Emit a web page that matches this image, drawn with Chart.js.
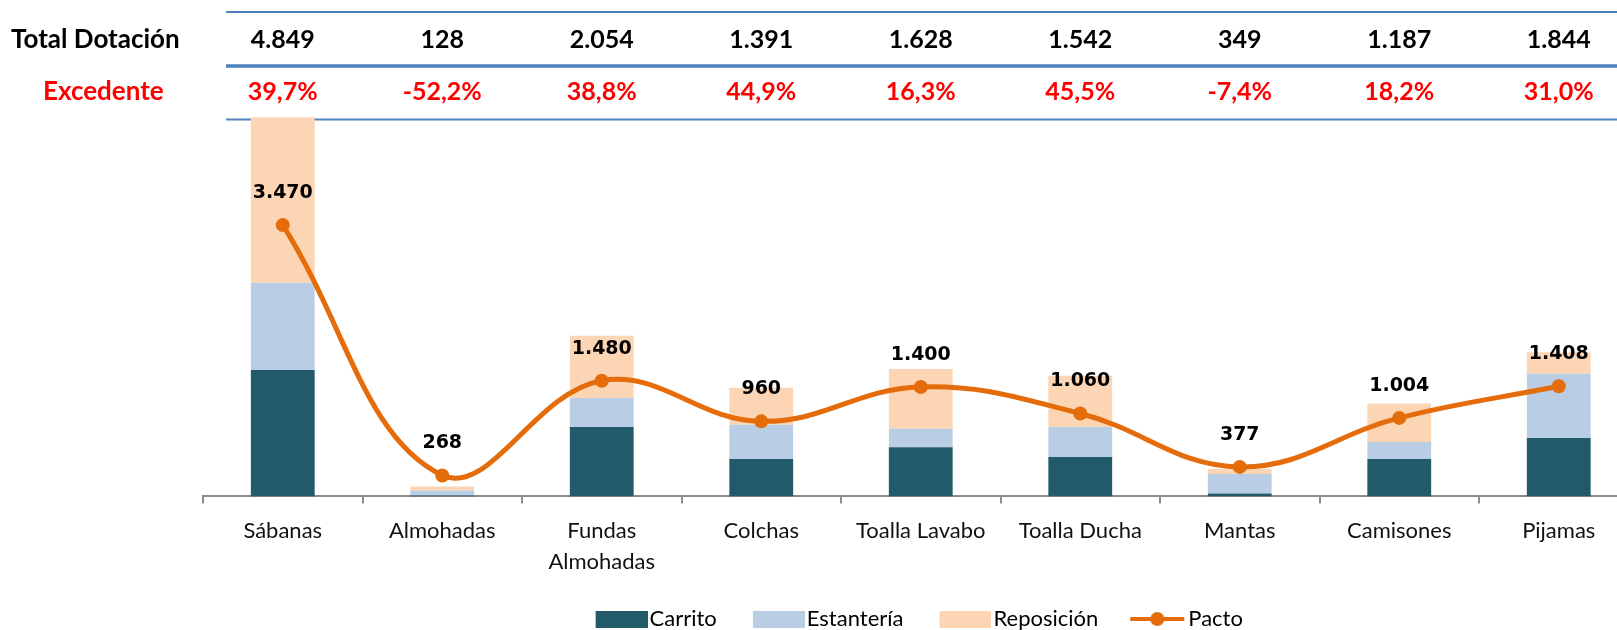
<!DOCTYPE html>
<html>
<head>
<meta charset="utf-8">
<script src="https://cdn.jsdelivr.net/npm/chart.js@4.4.1/dist/chart.umd.min.js"></script>
<style>
  html, body { margin: 0; padding: 0; background: #fff; overflow: hidden; }
  canvas { display: block; }
</style>
</head>
<body>
<canvas id="chart" width="1660" height="640"></canvas>
<script>
// Data
const categories = ['Sábanas', 'Almohadas', ['Fundas', 'Almohadas'], 'Colchas', 'Toalla Lavabo', 'Toalla Ducha', 'Mantas', 'Camisones', 'Pijamas'];
const carrito    = [1616, 13, 889, 479, 629, 504, 38, 479, 748];
const estanteria = [1116, 64, 368, 436, 235, 385, 248, 218, 821];
const reposicion = [2117, 51, 797, 476, 764, 653, 63, 490, 275];
const pacto      = [3470, 268, 1480, 960, 1400, 1060, 377, 1004, 1408];
const totalDotacion = [4849, 128, 2054, 1391, 1628, 1542, 349, 1187, 1844];
const excedente = ['39,7%', '-52,2%', '38,8%', '44,9%', '16,3%', '45,5%', '-7,4%', '18,2%', '31,0%'];

const colors = {
  carrito: '#235A69',
  estanteria: '#B9CDE5',
  reposicion: '#FCD5B5',
  pacto: '#E46C0A',
  rule: '#4F81BD',
  axis: '#8C8C8C'
};

function fmt(n) {
  return n.toString().replace(/\B(?=(\d{3})+(?!\d))/g, '.');
}

// Legend swatches (drawn in the right part of the image so the text sits close)
function boxSwatch(color) {
  const c = document.createElement('canvas');
  c.width = 58; c.height = 17;
  const g = c.getContext('2d');
  g.fillStyle = color;
  g.fillRect(6, 0, 52, 17);
  return c;
}
function lineSwatch(color) {
  const c = document.createElement('canvas');
  c.width = 58; c.height = 16;
  const g = c.getContext('2d');
  g.strokeStyle = color;
  g.lineWidth = 4;
  g.beginPath(); g.moveTo(2, 8); g.lineTo(56, 8); g.stroke();
  g.fillStyle = color;
  g.beginPath(); g.arc(29, 8, 7, 0, Math.PI * 2); g.fill();
  return c;
}

// Header table (Total Dotación / Excedente) + rules
const headerPlugin = {
  id: 'header',
  beforeDatasetsDraw(chart) {
    const ctx = chart.ctx;
    const x = chart.scales.x;
    ctx.save();
    ctx.strokeStyle = colors.rule;
    [[12, 2], [66, 3.5], [119.5, 2]].forEach(([y, w]) => {
      ctx.lineWidth = w;
      ctx.beginPath();
      ctx.moveTo(226, y);
      ctx.lineTo(chart.width, y);
      ctx.stroke();
    });
    ctx.textBaseline = 'middle';
    ctx.font = 'bold 26px Lato';
    ctx.textAlign = 'left';
    ctx.fillStyle = '#000';
    ctx.fillText('Total Dotación', 11, 40);
    ctx.fillStyle = '#FF0000';
    ctx.fillText('Excedente', 43, 92);
    ctx.font = 'bold 25px Lato';
    ctx.textAlign = 'center';
    totalDotacion.forEach((v, i) => {
      const cx = x.getPixelForValue(i);
      ctx.fillStyle = '#000';
      ctx.fillText(fmt(v), cx, 40);
      ctx.fillStyle = '#FF0000';
      ctx.fillText(excedente[i], cx, 92);
    });
    ctx.restore();
  }
};

// Value labels above the Pacto points
const pactoLabels = {
  id: 'pactoLabels',
  afterDatasetsDraw(chart) {
    const ctx = chart.ctx;
    const meta = chart.getDatasetMeta(3);
    ctx.save();
    ctx.font = 'bold 19px "DejaVu Sans"';
    ctx.fillStyle = '#000';
    ctx.textAlign = 'center';
    ctx.textBaseline = 'middle';
    meta.data.forEach((pt, i) => {
      ctx.fillText(fmt(pacto[i]), pt.x, pt.y - 32);
    });
    ctx.restore();
  }
};

const swatches = [boxSwatch(colors.carrito), boxSwatch(colors.estanteria), boxSwatch(colors.reposicion), lineSwatch(colors.pacto)];

new Chart(document.getElementById('chart'), {
  type: 'bar',
  data: {
    labels: categories,
    datasets: [
      { label: 'Carrito', data: carrito, backgroundColor: colors.carrito, stack: 'bars', order: 1 },
      { label: 'Estantería', data: estanteria, backgroundColor: colors.estanteria, stack: 'bars', order: 1 },
      { label: 'Reposición', data: reposicion, backgroundColor: colors.reposicion, stack: 'bars', order: 1 },
      {
        type: 'line', label: 'Pacto', data: pacto, stack: 'pacto', order: 0,
        borderColor: colors.pacto, backgroundColor: colors.pacto, borderWidth: 5,
        pointRadius: 7, pointBackgroundColor: colors.pacto, pointBorderWidth: 0,
        tension: 0.4, fill: false
      }
    ]
  },
  options: {
    responsive: false,
    animation: false,
    devicePixelRatio: 1,
    datasets: { bar: { categoryPercentage: 1, barPercentage: 0.4 } },
    layout: { padding: { left: 203, right: 21.5, top: 100, bottom: 0 } },
    scales: {
      x: {
        stacked: true,
        grid: { offset: true, drawOnChartArea: false, drawTicks: true, tickLength: 7, color: colors.axis, lineWidth: 2 },
        border: { color: colors.axis, width: 2 },
        ticks: { font: { family: 'Lato', size: 22, lineHeight: 1.4 }, color: '#111', padding: 12, maxRotation: 0, autoSkip: false },
        afterFit(scale) { scale.height -= 20; }
      },
      y: { stacked: true, display: false, min: 0, max: 5070 }
    },
    plugins: {
      tooltip: { enabled: false },
      legend: {
        position: 'bottom',
        labels: {
          usePointStyle: true,
          pointStyleWidth: 40,
          padding: 39,
          color: '#000',
          font: { family: 'Lato', size: 22 },
          generateLabels(chart) {
            return chart.data.datasets.map((ds, i) => ({
              text: ds.label,
              pointStyle: swatches[i],
              fillStyle: ds.backgroundColor,
              strokeStyle: ds.backgroundColor,
              lineWidth: 0,
              hidden: false,
              datasetIndex: i
            }));
          }
        }
      }
    }
  },
  plugins: [headerPlugin, pactoLabels]
});
</script>
</body>
</html>
